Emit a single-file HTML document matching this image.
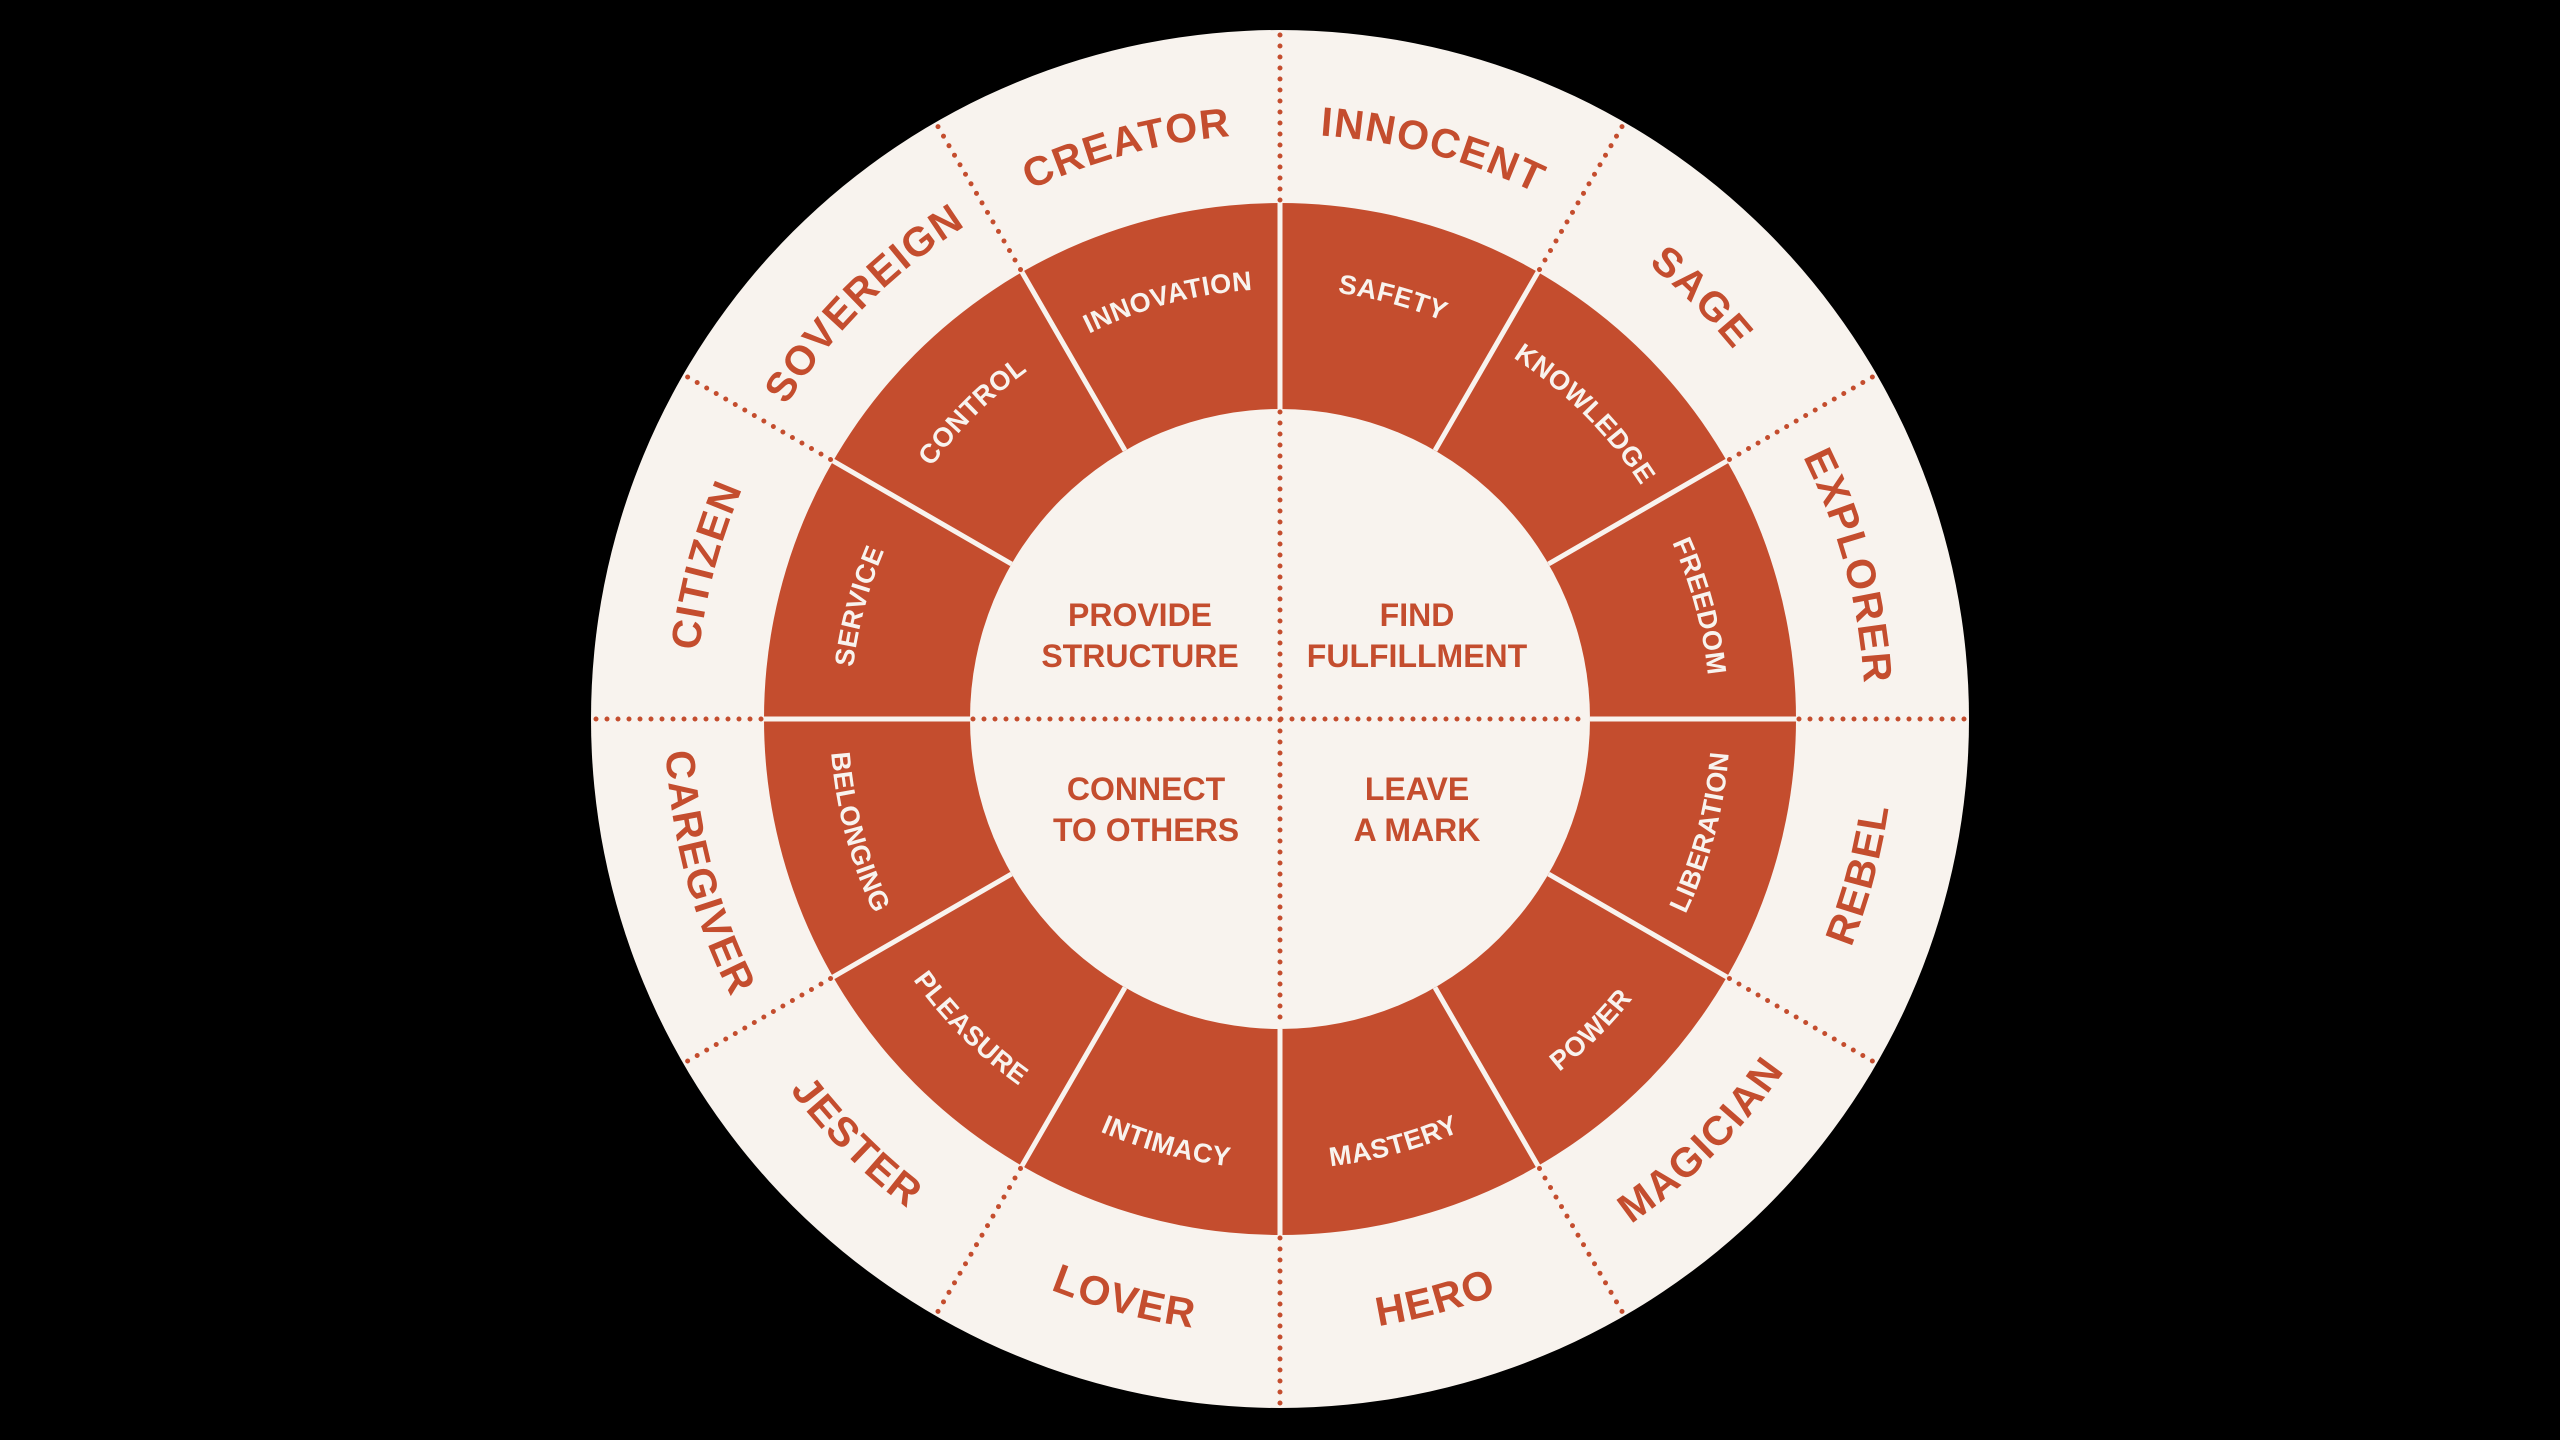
<!DOCTYPE html>
<html><head><meta charset="utf-8"><style>
html,body{margin:0;padding:0;background:#000;}
svg{display:block}
text{font-family:"Liberation Sans",sans-serif;font-weight:bold;}
</style></head><body>
<svg width="2560" height="1440" viewBox="0 0 2560 1440" xmlns="http://www.w3.org/2000/svg">
<defs>
<path id="ocw" d="M904,270.9 A585,585 0 0 1 1656,270.9"/>
<path id="occw" d="M884.7,1190.1 A615,615 0 0 0 1675.3,1190.1"/>
<path id="rcw" d="M1003.6,389.6 A430,430 0 0 1 1556.4,389.6"/>
<path id="rccw" d="M990.7,1063.7 A450,450 0 0 0 1569.3,1063.7"/>
</defs>
<rect width="2560" height="1440" fill="#000"/>
<circle cx="1280" cy="719" r="689" fill="#F8F3EE"/>
<g stroke="#C44D2E" stroke-width="5" stroke-linecap="round" stroke-dasharray="0 11">
<line x1="1280" y1="409" x2="1280" y2="30" transform="rotate(0 1280 719)"/>
<line x1="1280" y1="409" x2="1280" y2="30" transform="rotate(30 1280 719)"/>
<line x1="1280" y1="409" x2="1280" y2="30" transform="rotate(60 1280 719)"/>
<line x1="1280" y1="409" x2="1280" y2="30" transform="rotate(90 1280 719)"/>
<line x1="1280" y1="409" x2="1280" y2="30" transform="rotate(120 1280 719)"/>
<line x1="1280" y1="409" x2="1280" y2="30" transform="rotate(150 1280 719)"/>
<line x1="1280" y1="409" x2="1280" y2="30" transform="rotate(180 1280 719)"/>
<line x1="1280" y1="409" x2="1280" y2="30" transform="rotate(210 1280 719)"/>
<line x1="1280" y1="409" x2="1280" y2="30" transform="rotate(240 1280 719)"/>
<line x1="1280" y1="409" x2="1280" y2="30" transform="rotate(270 1280 719)"/>
<line x1="1280" y1="409" x2="1280" y2="30" transform="rotate(300 1280 719)"/>
<line x1="1280" y1="409" x2="1280" y2="30" transform="rotate(330 1280 719)"/>
</g>
<circle cx="1280" cy="719" r="516" fill="#C44D2E"/>
<g stroke="#F8F3EE" stroke-width="5">
<line x1="1280" y1="409" x2="1280" y2="203" transform="rotate(0 1280 719)"/>
<line x1="1280" y1="409" x2="1280" y2="203" transform="rotate(30 1280 719)"/>
<line x1="1280" y1="409" x2="1280" y2="203" transform="rotate(60 1280 719)"/>
<line x1="1280" y1="409" x2="1280" y2="203" transform="rotate(90 1280 719)"/>
<line x1="1280" y1="409" x2="1280" y2="203" transform="rotate(120 1280 719)"/>
<line x1="1280" y1="409" x2="1280" y2="203" transform="rotate(150 1280 719)"/>
<line x1="1280" y1="409" x2="1280" y2="203" transform="rotate(180 1280 719)"/>
<line x1="1280" y1="409" x2="1280" y2="203" transform="rotate(210 1280 719)"/>
<line x1="1280" y1="409" x2="1280" y2="203" transform="rotate(240 1280 719)"/>
<line x1="1280" y1="409" x2="1280" y2="203" transform="rotate(270 1280 719)"/>
<line x1="1280" y1="409" x2="1280" y2="203" transform="rotate(300 1280 719)"/>
<line x1="1280" y1="409" x2="1280" y2="203" transform="rotate(330 1280 719)"/>
</g>
<circle cx="1280" cy="719" r="310" fill="#F8F3EE"/>
<g stroke="#C44D2E" stroke-width="5" stroke-linecap="round" stroke-dasharray="0 11">
<line x1="1280" y1="412" x2="1280" y2="1026"/>
<line x1="973" y1="719" x2="1587" y2="719"/>
</g>
<g fill="#C44D2E" font-size="41" letter-spacing="1.5" text-anchor="middle">
<text transform="rotate(15 1280 719)"><textPath href="#ocw" startOffset="50%">INNOCENT</textPath></text>
<text transform="rotate(45 1280 719)"><textPath href="#ocw" startOffset="50%">SAGE</textPath></text>
<text transform="rotate(75 1280 719)"><textPath href="#ocw" startOffset="50%">EXPLORER</textPath></text>
<text transform="rotate(-75 1280 719)"><textPath href="#occw" startOffset="50%">REBEL</textPath></text>
<text transform="rotate(-45 1280 719)"><textPath href="#occw" startOffset="50%">MAGICIAN</textPath></text>
<text transform="rotate(-15 1280 719)"><textPath href="#occw" startOffset="50%">HERO</textPath></text>
<text transform="rotate(15 1280 719)"><textPath href="#occw" startOffset="50%">LOVER</textPath></text>
<text transform="rotate(45 1280 719)"><textPath href="#occw" startOffset="50%">JESTER</textPath></text>
<text transform="rotate(75 1280 719)"><textPath href="#occw" startOffset="50%">CAREGIVER</textPath></text>
<text transform="rotate(-75 1280 719)"><textPath href="#ocw" startOffset="50%">CITIZEN</textPath></text>
<text transform="rotate(-45 1280 719)"><textPath href="#ocw" startOffset="50%">SOVEREIGN</textPath></text>
<text transform="rotate(-15 1280 719)"><textPath href="#ocw" startOffset="50%">CREATOR</textPath></text>
</g>
<g fill="#F8F3EE" font-size="27" letter-spacing="0.5" text-anchor="middle">
<text transform="rotate(15 1280 719)"><textPath href="#rcw" startOffset="50%">SAFETY</textPath></text>
<text transform="rotate(45 1280 719)"><textPath href="#rcw" startOffset="50%">KNOWLEDGE</textPath></text>
<text transform="rotate(75 1280 719)"><textPath href="#rcw" startOffset="50%">FREEDOM</textPath></text>
<text transform="rotate(-75 1280 719)"><textPath href="#rccw" startOffset="50%">LIBERATION</textPath></text>
<text transform="rotate(-45 1280 719)"><textPath href="#rccw" startOffset="50%">POWER</textPath></text>
<text transform="rotate(-15 1280 719)"><textPath href="#rccw" startOffset="50%">MASTERY</textPath></text>
<text transform="rotate(15 1280 719)"><textPath href="#rccw" startOffset="50%">INTIMACY</textPath></text>
<text transform="rotate(45 1280 719)"><textPath href="#rccw" startOffset="50%">PLEASURE</textPath></text>
<text transform="rotate(75 1280 719)"><textPath href="#rccw" startOffset="50%">BELONGING</textPath></text>
<text transform="rotate(-75 1280 719)"><textPath href="#rcw" startOffset="50%">SERVICE</textPath></text>
<text transform="rotate(-45 1280 719)"><textPath href="#rcw" startOffset="50%">CONTROL</textPath></text>
<text transform="rotate(-15 1280 719)"><textPath href="#rcw" startOffset="50%">INNOVATION</textPath></text>
</g>
<g fill="#C44D2E" font-size="32" text-anchor="middle">
<text x="1140" y="626">PROVIDE</text>
<text x="1140" y="667">STRUCTURE</text>
<text x="1417" y="626">FIND</text>
<text x="1417" y="667">FULFILLMENT</text>
<text x="1146" y="800">CONNECT</text>
<text x="1146" y="841">TO OTHERS</text>
<text x="1417" y="800">LEAVE</text>
<text x="1417" y="841">A MARK</text>
</g>
</svg>
</body></html>
